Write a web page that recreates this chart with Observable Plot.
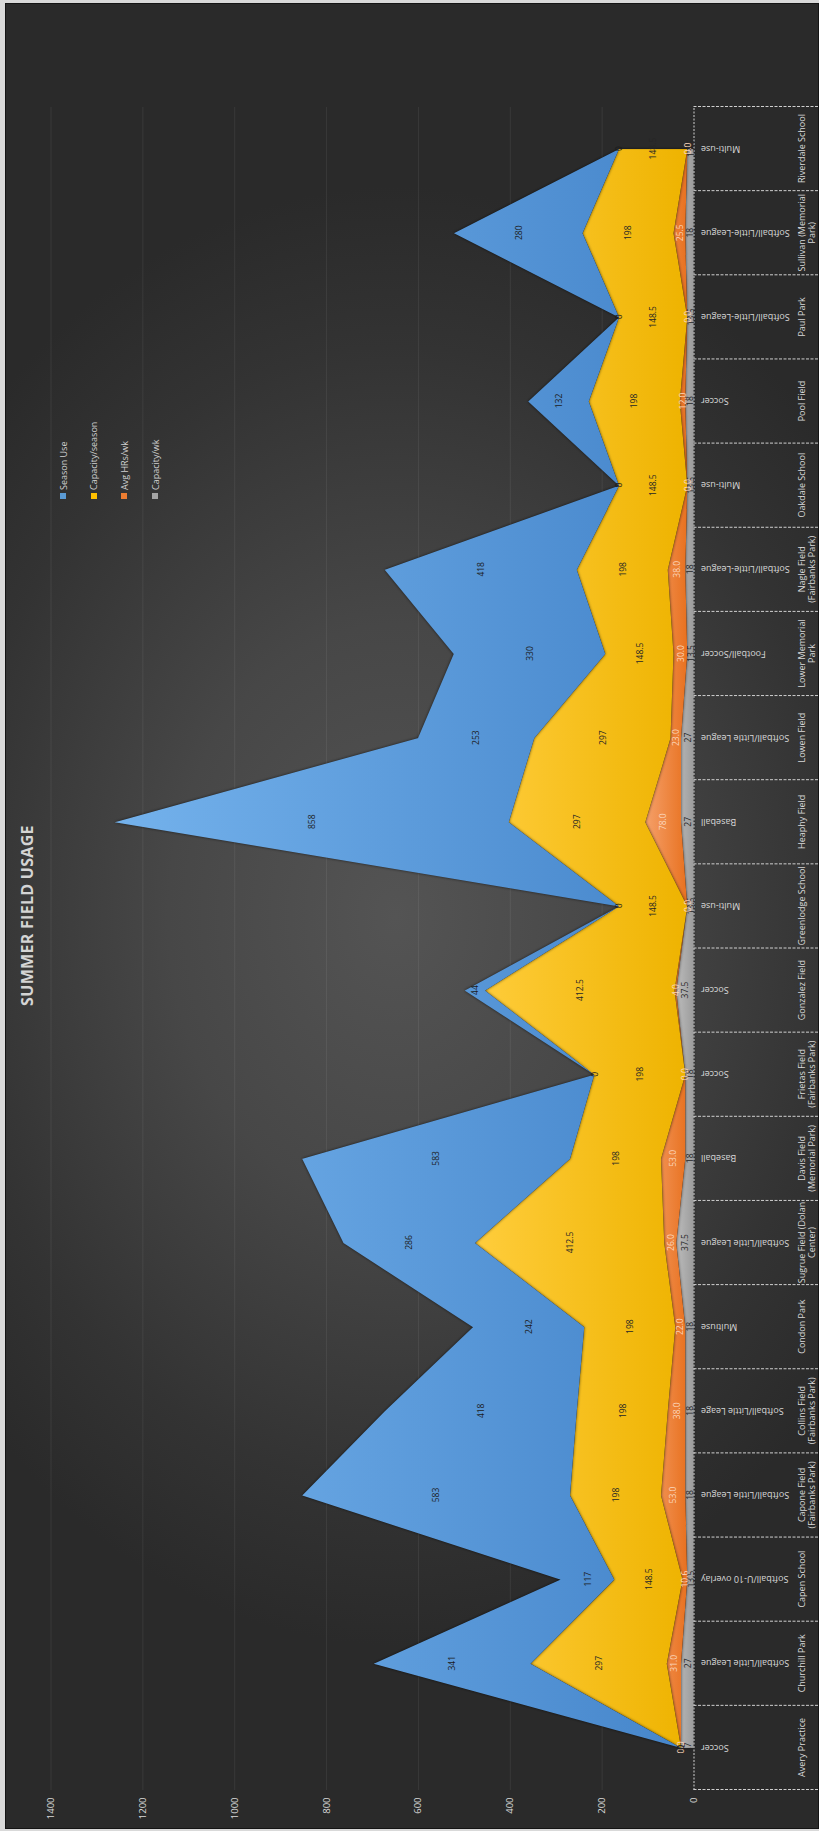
<!DOCTYPE html>
<html><head><meta charset="utf-8">
<script src="https://cdn.jsdelivr.net/npm/d3@7"></script>
<script src="https://cdn.jsdelivr.net/npm/@observablehq/plot@0.6"></script>
<style>
html,body{margin:0;padding:0;}
body{width:819px;height:1831px;overflow:hidden;background:#d9d9d9;position:relative;font-family:"Open Sans",sans-serif;}
#frame{position:absolute;left:5px;top:3px;width:812px;height:1824px;border:1px solid #141414;
  background:radial-gradient(ellipse 70% 40% at 48% 50%, #545454 0%, #474747 40%, #333333 78%, #2a2a2a 100%);}
#rot{position:absolute;left:0;top:0;width:1831px;height:819px;transform-origin:0 0;transform:translate(0px,1831px) rotate(-90deg);}
#chart{position:absolute;left:0;top:0;}
#title{position:absolute;left:0;width:1831px;top:16px;text-align:center;font-size:16px;font-weight:700;color:#d4d4d4;line-height:22px;letter-spacing:0.3px;}
#legend{position:absolute;left:1332px;top:48px;}
.item{height:30.6px;display:flex;align-items:center;font-size:9px;color:#d0d0d0;white-space:nowrap;}
.sw{width:6px;height:6px;margin-right:3px;flex:none;}
</style></head><body>
<div id="frame"></div>
<div id="rot"><div id="chart"></div><div id="title">SUMMER FIELD USAGE</div><div id="legend"></div></div>
<script>
const categories = ["Avery Practice","Churchill Park","Capen School","Capone Field\n(Fairbanks Park)","Collins Field\n(Fairbanks Park)","Condon Park","Sugrue Field (Dolan\nCenter)","Davis Field\n(Memorial Park)","Frietas Field\n(Fairbanks Park)","Gonzalez Field","Greenlodge School","Heaphy Field","Lowen Field","Lower Memorial\nPark","Nagle Field\n(Fairbanks Park)","Oakdale School","Pool Field","Paul Park","Sullivan (Memorial\nPark)","Riverdale School"];
const useTypes = ["Soccer","Softball/Little League","Softball/U-10 overlay","Softball/Little League","Softball/Little Leage","Multiuse","Softball/Little League","Baseball","Soccer","Soccer","Multi-use","Baseball","Softball/Little League","Football/Soccer","Softball/Little-League","Multi-use","Soccer","Softball/Little-League","Softball/Little-League","Multi-use"];
const seasonUse = [0,341,117,583,418,242,286,583,0,44,0,858,253,330,418,0,132,0,280,0];
const capacitySeason = [0,297,148.5,198,198,198,412.5,198,198,412.5,148.5,297,297,148.5,198,148.5,198,148.5,198,148.5];
const avgHrsWk = [0,31,10.6,53,38,22,26,53,0,4,0,78,23,30,38,0,12,0,25.5,0];
const capacityWk = [27,27,13.5,18,18,18,37.5,18,18,37.5,13.5,27,27,13.5,18,13.5,18,13.5,18,13.5];
const valueTicks = [0,200,400,600,800,1000,1200,1400];
const legendOrder = ["Season Use","Capacity/season","Avg HRs/wk","Capacity/wk"];

const seriesDefs = [
  {key:"Capacity/wk", values:capacityWk, color:"#a5a5a5", grad:["#bcbcbc","#9c9c9c"], label:"#262626", fmt:d=>String(d)},
  {key:"Avg HRs/wk", values:avgHrsWk, color:"#ed7d31", grad:["#f5a06a","#e8711f"], label:"#fbd6bc", fmt:d=>d.toFixed(1)},
  {key:"Capacity/season", values:capacitySeason, color:"#ffc000", grad:["#ffcd3c","#eeb300"], label:"#262626", fmt:d=>String(d)},
  {key:"Season Use", values:seasonUse, color:"#5b9bd5", grad:["#74b2ec","#4686cb"], label:"#1c1c1c", fmt:d=>String(d)}
];
const rows = categories.map((c,i)=>{const r={i}; seriesDefs.forEach(s=>r[s.key]=s.values[i]); return r;});
const stacked = d3.stack().keys(seriesDefs.map(s=>s.key))(rows);
const seps = d3.range(categories.length+1).map(i=>i-0.5);

const marks = [
  Plot.ruleY(valueTicks.slice(1), {stroke:"#ffffff", strokeOpacity:0.07}),
];
stacked.forEach((layer,k)=>{
  marks.push(Plot.areaY(layer, {x:d=>d.data.i, y1:d=>d[0], y2:d=>d[1], fill:`url(#grad${k})`}));
});
marks.push(Plot.ruleY([0], {stroke:"#d0d0d0", strokeDasharray:"2,1.5"}));
marks.push(Plot.axisX({ticks:seps, tickSize:125.5, tickFormat:()=>"", stroke:"#cfcfcf", strokeDasharray:"3,1.5", anchor:"bottom"}));
stacked.forEach((layer,k)=>{
  const s = seriesDefs[k];
  marks.push(Plot.text(layer, {x:d=>d.data.i, y:d=>(d[0]+d[1])/2, text:d=>s.fmt(d.data[s.key]), fill:s.label, fontSize:8.5}));
});
marks.push(Plot.text(categories, {x:(d,i)=>i, y:0, text:(d,i)=>useTypes[i], rotate:-90, textAnchor:"end", dy:7, fill:"#d9d9d9", fontSize:9}));
marks.push(Plot.text(categories, {x:(d,i)=>i, y:0, text:d=>d, lineAnchor:"top", dy:103, fill:"#d9d9d9", fontSize:9, lineHeight:1.2}));
marks.push(Plot.axisY(valueTicks, {tickSize:0, tickPadding:8, fontSize:9.5, fill:"#d9d9d9", anchor:"left", tickFormat:d=>String(d)}));

const chart = Plot.plot({
  width:1831, height:819,
  marginLeft:41, marginRight:107, marginTop:50.5, marginBottom:125.5,
  x:{type:"linear", domain:[-0.5, categories.length-0.5], axis:null},
  y:{domain:[0,1400], axis:null},
  style:{background:"transparent", fontFamily:"Open Sans", color:"#d9d9d9", overflow:"visible"},
  marks
});
const svg = d3.select(chart);
const defs = svg.insert("defs", ":first-child");
seriesDefs.forEach((s,k)=>{
  const g = defs.append("linearGradient").attr("id","grad"+k).attr("x1",0).attr("y1",0).attr("x2",0).attr("y2",1);
  g.append("stop").attr("offset","0%").attr("stop-color",s.grad[0]);
  g.append("stop").attr("offset","100%").attr("stop-color",s.grad[1]);
});
svg.selectAll('g[fill^="url"]').style("filter","drop-shadow(0px 0px 1.5px rgba(0,0,0,0.65))");
document.getElementById("chart").appendChild(chart);

const leg = d3.select("#legend");
legendOrder.forEach(name=>{
  const s = seriesDefs.find(d=>d.key===name);
  const it = leg.append("div").attr("class","item");
  it.append("div").attr("class","sw").style("background", s.color);
  it.append("span").text(name);
});
</script>
</body></html>
